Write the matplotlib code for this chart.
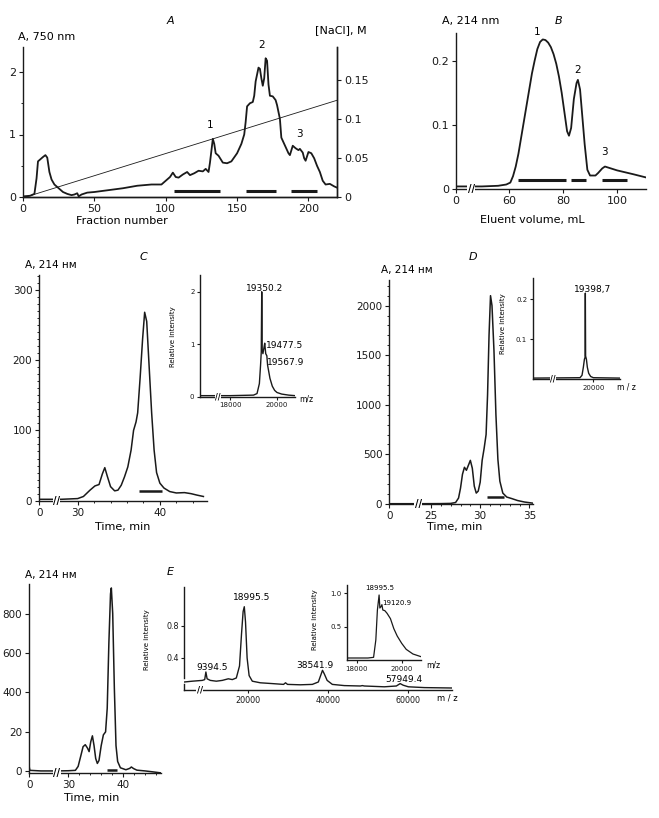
import matplotlib
matplotlib.use('Agg')
import matplotlib.pyplot as plt
from matplotlib.transforms import blended_transform_factory
from matplotlib.ticker import MultipleLocator

plt.rcParams['font.family'] = ['DejaVu Sans']

# ---------------- data ----------------
# Panel A: ion-exchange profile (fraction, A750)
A_frac = [0, 5, 8, 9.5, 10.5, 12, 14, 15.7, 17, 18.5, 20, 22, 25, 28, 31, 34, 36, 38, 39, 41, 45, 50, 60, 70, 80, 90, 97,
          100, 103, 105, 107, 109, 112, 115, 117, 120, 123, 126, 128, 130, 131, 133, 134, 135, 137, 140, 143, 146, 150,
          153, 155, 156, 157, 159, 161, 162, 163, 165, 166, 167, 168, 169, 170, 171, 172, 173, 175, 177, 178, 180, 181,
          182, 184, 186, 187, 189, 191, 193, 194, 196, 197, 198, 200, 202, 204, 206, 208, 210, 212, 215, 218, 220]
A_abs = [0.01, 0.02, 0.05, 0.3, 0.57, 0.6, 0.64, 0.67, 0.63, 0.4, 0.28, 0.2, 0.14, 0.08, 0.05, 0.03, 0.04, 0.06, 0.01, 0.04,
         0.07, 0.08, 0.11, 0.14, 0.18, 0.2, 0.2, 0.26, 0.32, 0.39, 0.32, 0.31, 0.36, 0.4, 0.35, 0.38, 0.42, 0.41, 0.45,
         0.4, 0.55, 0.93, 0.85, 0.7, 0.66, 0.55, 0.54, 0.57, 0.7, 0.85, 1.0, 1.2, 1.45, 1.5, 1.52, 1.62, 1.85, 2.07,
         2.05, 1.9, 1.78, 1.9, 2.22, 2.18, 1.8, 1.62, 1.61, 1.55, 1.47, 1.25, 0.95, 0.9, 0.8, 0.7, 0.67, 0.82, 0.78,
         0.75, 0.77, 0.71, 0.62, 0.58, 0.72, 0.7, 0.62, 0.5, 0.4, 0.26, 0.2, 0.21, 0.17, 0.15]
A_grad_frac = [2, 220]
A_grad_nacl = [0.0, 0.124]
A_bars = [(105.5, 138), (156, 177), (188, 206)]
A_peak_labels = [('1', 131.3, 1.16), ('2', 167.2, 2.44), ('3', 194, 1.01)]

# Panel B: gel filtration (mL, A214)
B_vol = [40.4, 50, 56, 59, 60.5, 61.5, 62.5, 63.5, 64.5, 65.5, 66.5, 67.5, 68.5, 69.5, 70.5, 71.5, 72.5, 73.5, 74.5, 75.5,
         76.5, 77.5, 78.5, 79.5, 80.5, 81.5, 82.2, 83, 84, 85, 85.5, 86.3, 87, 88, 89, 90, 92, 93, 94.5, 95.5, 97, 100,
         103, 106, 110.7]
B_abs = [0.004, 0.004, 0.005, 0.007, 0.01, 0.02, 0.035, 0.055, 0.08, 0.105, 0.13, 0.155, 0.18, 0.2, 0.218, 0.229, 0.233,
         0.232, 0.228, 0.221, 0.21, 0.195, 0.175, 0.15, 0.12, 0.09, 0.083, 0.095, 0.14, 0.165, 0.17, 0.155, 0.12, 0.07,
         0.03, 0.021, 0.021, 0.025, 0.032, 0.035, 0.033, 0.029, 0.026, 0.023, 0.018]
B_bars = [(63.4, 81.1), (83, 88.5), (94.3, 103.8)]
B_peak_labels = [('1', 70.6, 0.245), ('2', 85.4, 0.186), ('3', 95.3, 0.057)]

# Panel C: HPLC (min, A214) + MS inset
C_time = [25.3, 28, 30, 30.7, 31.5, 32.1, 32.6, 33.0, 33.3, 33.6, 34.0, 34.5, 34.9, 35.3, 35.7, 36.1, 36.5, 36.8, 37.1,
          37.3, 37.6, 37.9, 38.15, 38.4, 38.7, 39.0, 39.3, 39.6, 40.0, 40.5, 41.2, 42, 43, 43.8, 44.5, 45.3]
C_abs = [2, 2, 3, 6, 15, 21, 23, 38, 47, 35, 20, 14, 15, 22, 34, 48, 72, 100, 112, 125, 175, 230, 268, 255, 190, 125, 72,
         40, 25, 18, 13, 11, 11.5, 10, 8, 6]
C_bar = (37.5, 40.2, 14)
C_ms_mz = [16723, 17000, 18000, 19000, 19150, 19250, 19300, 19330, 19350.2, 19370, 19400, 19440, 19477.5, 19520, 19567.9,
           19600, 19700, 19800, 19900, 20000, 20200, 20500, 20766]
C_ms_int = [0.02, 0.02, 0.02, 0.03, 0.06, 0.25, 0.6, 0.85, 2.0, 0.9, 0.82, 0.92, 1.02, 0.82, 0.78, 0.6, 0.35, 0.2, 0.12,
            0.08, 0.05, 0.03, 0.02]
C_ms_labels = ['19350.2', '19477.5', '19567.9']

# Panel D
D_time = [20.8, 24, 26, 27, 27.5, 27.8, 28.0, 28.2, 28.4, 28.6, 28.8, 29.0, 29.2, 29.4, 29.6, 29.8, 30.0, 30.2, 30.4, 30.6,
          30.75, 30.9, 31.05, 31.2, 31.4, 31.6, 31.8, 32.0, 32.3, 32.7, 33.2, 33.8, 34.5, 35.4]
D_abs = [3, 3, 4, 6, 15, 60, 160, 300, 370, 340, 390, 440, 360, 180, 110, 130, 220, 440, 560, 700, 1100, 1700, 2100, 2000,
         1550, 900, 450, 230, 110, 70, 55, 35, 20, 8]
D_bar = (30.7, 32.4, 67)
D_ms_mz = [15450, 19000, 19150, 19250, 19330, 19380, 19398.7, 19420, 19480, 19550, 19650, 19800, 20000, 22000]
D_ms_int = [0.003, 0.004, 0.01, 0.03, 0.05, 0.055, 0.215, 0.058, 0.05, 0.03, 0.015, 0.007, 0.004, 0.003]
D_ms_label = '19398,7'

# Bottom-left HPLC (panel accompanying E)
F_time = [22.9, 23.0, 25, 28, 30, 31.3, 31.8, 32.3, 32.7, 33.1, 33.5, 33.8, 34.1, 34.4, 34.7, 35.0, 35.3, 35.6, 36.0, 36.4,
          36.8, 37.1, 37.4, 37.7, 37.85, 38.1, 38.4, 38.7, 39.0, 39.5, 40.5, 41.2, 41.5, 41.9, 42.5, 44, 45.5, 46.9]
F_abs = [20, 5, 2, 2, 3, 5, 25, 80, 125, 135, 118, 100, 150, 180, 130, 65, 40, 55, 130, 185, 200, 320, 650, 900, 930, 800,
         420, 130, 50, 18, 8, 15, 22, 14, 6, 2, -3, -8]
F_bar = (37.1, 38.9, 5)
F_yticklabels = ['0', '20', '400', '600', '800']

# Panel E: MS
E_mz = [4000, 6000, 8500, 9100, 9394.5, 9700, 10500, 12000, 13500, 15000, 16000, 17000, 17800, 18300, 18700, 18995.5,
        19300, 19700, 20200, 21000, 23000, 26000, 28800, 29300, 29800, 33000, 36000, 37500, 38000, 38541.9, 39000,
        39700, 41000, 44000, 48000, 48500, 49000, 54000, 57000, 57949.4, 58700, 60000, 64000, 70800]
E_int = [0.1, 0.11, 0.12, 0.13, 0.225, 0.14, 0.12, 0.11, 0.12, 0.14, 0.13, 0.15, 0.3, 0.7, 0.98, 1.04, 0.85, 0.4, 0.18,
         0.11, 0.09, 0.08, 0.07, 0.09, 0.07, 0.065, 0.07, 0.1, 0.17, 0.246, 0.2, 0.12, 0.07, 0.055, 0.05, 0.055, 0.05,
         0.04, 0.05, 0.08, 0.06, 0.04, 0.03, 0.025]
E_labels = ['9394.5', '18995.5', '38541.9', '57949.4']
E_in_mz = [17582, 18500, 18750, 18850, 18920, 18995.5, 19030, 19080, 19120.9, 19160, 19250, 19350, 19500, 19650, 19800,
           20000, 20200, 20500, 20858]
E_in_int = [0.03, 0.03, 0.04, 0.3, 0.75, 0.975, 0.78, 0.8, 0.83, 0.75, 0.74, 0.7, 0.62, 0.47, 0.36, 0.25, 0.16, 0.09, 0.05]
E_in_labels = ['18995.5', '19120.9']

# ---------------- figure ----------------
W, H = 659, 818
fig = plt.figure(figsize=(W / 100, H / 100), dpi=100)
LC = '#1a1a1a'


def px_ax(l, t, r, b):
    return fig.add_axes([l / W, 1 - b / H, (r - l) / W, (b - t) / H])


def ftext(x, y, s, **kw):
    kw.setdefault('ha', 'center')
    kw.setdefault('va', 'center')
    fig.text(x / W, 1 - y / H, s, **kw)


def style(ax, fs, right=False):
    ax.spines['top'].set_visible(False)
    if not right:
        ax.spines['right'].set_visible(False)
    for s in ax.spines.values():
        s.set_linewidth(1.0)
        s.set_color(LC)
    ax.tick_params(direction='out', length=3, width=0.8, labelsize=fs, pad=2, colors=LC)
    ax.tick_params(which='minor', length=1.6, width=0.6)
    ax.patch.set_alpha(0)


def brk(ax, x, fs=7):
    tr = blended_transform_factory(ax.transData, ax.transAxes)
    ax.text(x, 0, '//', transform=tr, ha='center', va='center', fontsize=fs, fontweight='bold',
            bbox=dict(fc='white', ec='none', pad=0.2), clip_on=False, zorder=6)


# ---- Panel A ----
axA = px_ax(23, 47, 337, 197)
axA.plot(A_frac, A_abs, color=LC, lw=1.3)
for x0, x1 in A_bars:
    axA.hlines(0.1, x0, x1, color=LC, lw=2.2)
for s, x, y in A_peak_labels:
    axA.text(x, y, s, fontsize=7.5, ha='center', va='center')
axA.set_xlim(0, 220)
axA.set_ylim(0, 2.4)
axA.set_xticks([0, 50, 100, 150, 200])
axA.set_yticks([0, 1, 2])
axA.yaxis.set_minor_locator(MultipleLocator(0.5))
style(axA, 8, right=True)
twA = axA.twinx()
twA.plot(A_grad_frac, A_grad_nacl, color=LC, lw=0.6)
twA.set_ylim(0, 0.1923)
twA.set_yticks([0, 0.05, 0.1, 0.15])
twA.set_yticklabels(['0', '0.05', '0.1', '0.15'])
style(twA, 8, right=True)
twA.spines['left'].set_visible(False)
ftext(170, 21, 'A', fontsize=8, style='italic')
ftext(18, 37, 'A, 750 nm', fontsize=8, ha='left')
ftext(315, 30, '[NaCl], M', fontsize=8, ha='left')
ftext(122, 221, 'Fraction number', fontsize=8)

# ---- Panel B ----
axB = px_ax(456, 33, 646, 189)
axB.plot(B_vol, B_abs, color=LC, lw=1.3)
for x0, x1 in B_bars:
    axB.hlines(0.014, x0, x1, color=LC, lw=2.2)
for s, x, y in B_peak_labels:
    axB.text(x, y, s, fontsize=7.5, ha='center', va='center', clip_on=False)
axB.set_xlim(40.4, 110.7)
axB.set_ylim(0, 0.243)
axB.set_xticks([40.4, 60, 80, 100])
axB.set_xticklabels(['0', '60', '80', '100'])
axB.set_yticks([0, 0.1, 0.2])
axB.set_yticklabels(['0', '0.1', '0.2'])
style(axB, 8)
brk(axB, 46, 7)
ftext(559, 21, 'B', fontsize=8, style='italic')
ftext(442, 21, 'A, 214 nm', fontsize=8, ha='left')
ftext(532, 220, 'Eluent volume, mL', fontsize=8)

# ---- Panel C ----
axC = px_ax(39.3, 275, 206.7, 500.7)
axC.plot(C_time, C_abs, color=LC, lw=1.1)
axC.hlines(C_bar[2], C_bar[0], C_bar[1], color=LC, lw=1.8)
axC.set_xlim(25.33, 45.7)
axC.set_ylim(0, 321)
axC.set_xticks([25.33, 30, 40])
axC.set_xticklabels(['0', '30', '40'])
axC.set_xticks([32, 34, 36, 38, 42, 44], minor=True)
axC.set_yticks([0, 100, 200, 300])
axC.yaxis.set_minor_locator(MultipleLocator(10))
style(axC, 7.5)
brk(axC, 27.4, 7)
ftext(143, 257, 'C', fontsize=8, style='italic')
ftext(25, 265, 'A, 214 нм', fontsize=7.5, ha='left')
ftext(123, 527, 'Time, min', fontsize=8)

axCi = px_ax(200, 275, 295, 396.7)
axCi.plot(C_ms_mz, C_ms_int, color=LC, lw=1.0)
axCi.set_xlim(16723, 20766)
axCi.set_ylim(0, 2.32)
axCi.set_xticks([18000, 20000])
axCi.set_yticks([0, 1, 2])
style(axCi, 5)
axCi.tick_params(length=2)
brk(axCi, 17489, 5.5)
ftext(265, 288.3, C_ms_labels[0], fontsize=6.5)
ftext(266, 345, C_ms_labels[1], fontsize=6.5, ha='left')
ftext(266.7, 362.3, C_ms_labels[2], fontsize=6.5, ha='left')
ftext(173.3, 336.7, 'Relative intensity', fontsize=5, rotation=90)
ftext(306, 399, 'm/z', fontsize=5.5)

# ---- Panel D ----
axD = px_ax(389.3, 280, 533.3, 504)
axD.plot(D_time, D_abs, color=LC, lw=1.1)
axD.hlines(D_bar[2], D_bar[0], D_bar[1], color=LC, lw=1.8)
axD.set_xlim(20.76, 35.4)
axD.set_ylim(0, 2258)
axD.set_xticks([20.76, 25, 30, 35])
axD.set_xticklabels(['0', '25', '30', '35'])
axD.set_xticks([26, 27, 28, 29, 31, 32, 33, 34], minor=True)
axD.set_yticks([0, 500, 1000, 1500, 2000])
axD.yaxis.set_minor_locator(MultipleLocator(100))
style(axD, 7.5)
brk(axD, 23.7, 7)
ftext(473, 257, 'D', fontsize=8, style='italic')
ftext(380.7, 270, 'A, 214 нм', fontsize=7.5, ha='left')
ftext(455, 527, 'Time, min', fontsize=8)

axDi = px_ax(532.7, 278.3, 620, 379.3)
axDi.plot(D_ms_mz, D_ms_int, color=LC, lw=1.0)
axDi.set_xlim(15450, 22000)
axDi.set_ylim(0, 0.252)
axDi.set_xticks([20000])
axDi.set_yticks([0.1, 0.2])
style(axDi, 5)
axDi.tick_params(length=2)
brk(axDi, 16972, 5.5)
ftext(593, 289.3, D_ms_label, fontsize=6.5)
ftext(502.7, 323.3, 'Relative intensity', fontsize=5, rotation=90)
ftext(626, 386.7, 'm / z', fontsize=5.5)

# ---- Bottom-left HPLC ----
axF = px_ax(29.3, 584, 161, 773.3)
axF.plot(F_time, F_abs, color=LC, lw=1.1)
axF.hlines(F_bar[2], F_bar[0], F_bar[1], color=LC, lw=1.8)
axF.set_xlim(22.9, 46.9)
axF.set_ylim(-10, 950)
axF.set_xticks([22.9, 30, 40])
axF.set_xticklabels(['0', '30', '40'])
axF.set_xticks([32, 34, 36, 38, 42, 44, 46], minor=True)
axF.set_yticks([0, 200, 400, 600, 800])
axF.set_yticklabels(F_yticklabels)
style(axF, 7.5)
brk(axF, 27.9, 7)
ftext(25, 575, 'A, 214 нм', fontsize=7.5, ha='left')
ftext(92, 798, 'Time, min', fontsize=8)

# ---- Panel E ----
axE = px_ax(184.3, 586.7, 451.7, 690)
axE.plot(E_mz, E_int, color=LC, lw=1.0)
axE.set_xlim(4000, 70833)
axE.set_ylim(0, 1.29)
axE.set_xticks([20000, 40000, 60000])
axE.set_yticks([0.4, 0.8])
style(axE, 5.8)
axE.spines['left'].set_bounds(0.15, 1.29)
axE.tick_params(length=2)
axE.axvline(4000, 0, 0.06, color=LC, lw=1.0, clip_on=False)
brk(axE, 7800, 6)
ftext(211.7, 668, E_labels[0], fontsize=6.5)
ftext(252, 598, E_labels[1], fontsize=6.5)
ftext(315, 666, E_labels[2], fontsize=6.5)
ftext(403.7, 679, E_labels[3], fontsize=6.5)
ftext(146.7, 640, 'Relative intensity', fontsize=5, rotation=90)
ftext(447, 698.3, 'm / z', fontsize=6)
ftext(170, 572, 'E', fontsize=8, style='italic')

axEi = px_ax(347.3, 585, 421, 660)
axEi.plot(E_in_mz, E_in_int, color=LC, lw=0.9)
axEi.set_xlim(17582, 20858)
axEi.set_ylim(0, 1.125)
axEi.set_xticks([18000, 20000])
axEi.set_yticks([0.5, 1.0])
style(axEi, 5)
axEi.tick_params(length=2)
ftext(380, 588.3, E_in_labels[0], fontsize=5)
ftext(397, 602.7, E_in_labels[1], fontsize=5)
ftext(315, 620, 'Relative intensity', fontsize=5, rotation=90)
ftext(433, 665, 'm/z', fontsize=5.5)

fig.savefig('out.png', dpi=100)
